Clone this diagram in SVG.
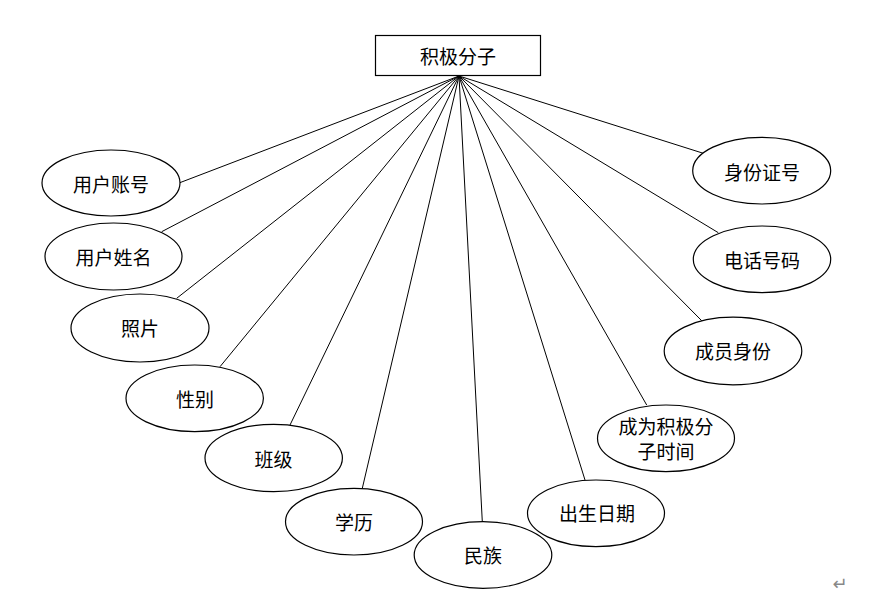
<svg xmlns="http://www.w3.org/2000/svg" width="879" height="593" viewBox="0 0 879 593">
<style>
.n{fill:#fff;stroke:#000;stroke-width:1.2}
.t{font-family:"Noto Sans CJK SC","Liberation Serif",serif;font-size:19px;fill:#000;text-anchor:middle;dominant-baseline:central}
.c line{stroke:#000;stroke-width:1}
</style>
<rect width="879" height="593" fill="#fff"/>
<g class="c" id="connectors">
<line x1="459" y1="76" x2="179" y2="183"/>
<line x1="459" y1="76" x2="161.7" y2="231.7"/>
<line x1="459" y1="76" x2="176.7" y2="298.3"/>
<line x1="459" y1="76" x2="220" y2="366.7"/>
<line x1="459" y1="76" x2="290" y2="425"/>
<line x1="459" y1="76" x2="362.3" y2="488.3"/>
<line x1="459" y1="76" x2="482.3" y2="521.7"/>
<line x1="459" y1="76" x2="585" y2="480"/>
<line x1="459" y1="76" x2="646.7" y2="405"/>
<line x1="459" y1="76" x2="701.7" y2="320.7"/>
<line x1="459" y1="76" x2="718.3" y2="232.7"/>
<line x1="459" y1="76" x2="703.3" y2="153.3"/>
</g>
<g id="root"><rect class="n" x="375.5" y="35.5" width="165" height="40"/><text class="t" x="458" y="55">积极分子</text></g>
<g id="n1"><ellipse class="n" cx="111" cy="183" rx="69" ry="33"/><text class="t" x="111" y="183">用户账号</text></g>
<g id="n2"><ellipse class="n" cx="113.5" cy="256.5" rx="68.5" ry="33.5"/><text class="t" x="113.5" y="256">用户姓名</text></g>
<g id="n3"><ellipse class="n" cx="140" cy="328" rx="69" ry="34"/><text class="t" x="140" y="327">照片</text></g>
<g id="n4"><ellipse class="n" cx="194.7" cy="398.3" rx="68.7" ry="33.3"/><text class="t" x="195" y="398">性别</text></g>
<g id="n5"><ellipse class="n" cx="273.7" cy="458" rx="68.7" ry="33.7"/><text class="t" x="273.5" y="458">班级</text></g>
<g id="n6"><ellipse class="n" cx="354" cy="521.7" rx="68.5" ry="33.3"/><text class="t" x="354" y="521">学历</text></g>
<g id="n7"><ellipse class="n" cx="483" cy="555" rx="68.8" ry="33.3"/><text class="t" x="483" y="554">民族</text></g>
<g id="n8"><ellipse class="n" cx="596" cy="513.3" rx="68.5" ry="33.3"/><text class="t" x="597" y="512">出生日期</text></g>
<g id="n9"><ellipse class="n" cx="666" cy="438.3" rx="68.5" ry="33.3"/><text class="t" x="666" y="425">成为积极分</text><text class="t" x="666" y="450">子时间</text></g>
<g id="n10"><ellipse class="n" cx="733" cy="351" rx="68.8" ry="33.8"/><text class="t" x="733" y="350">成员身份</text></g>
<g id="n11"><ellipse class="n" cx="762" cy="259.3" rx="68.7" ry="33.3"/><text class="t" x="762" y="259">电话号码</text></g>
<g id="n12"><ellipse class="n" cx="761.7" cy="170.7" rx="69" ry="33.3"/><text class="t" x="762" y="171">身份证号</text></g>
<text x="840" y="583" font-family="DejaVu Sans,sans-serif" font-size="18" fill="#888" text-anchor="middle" dominant-baseline="central">↵</text>
</svg>
